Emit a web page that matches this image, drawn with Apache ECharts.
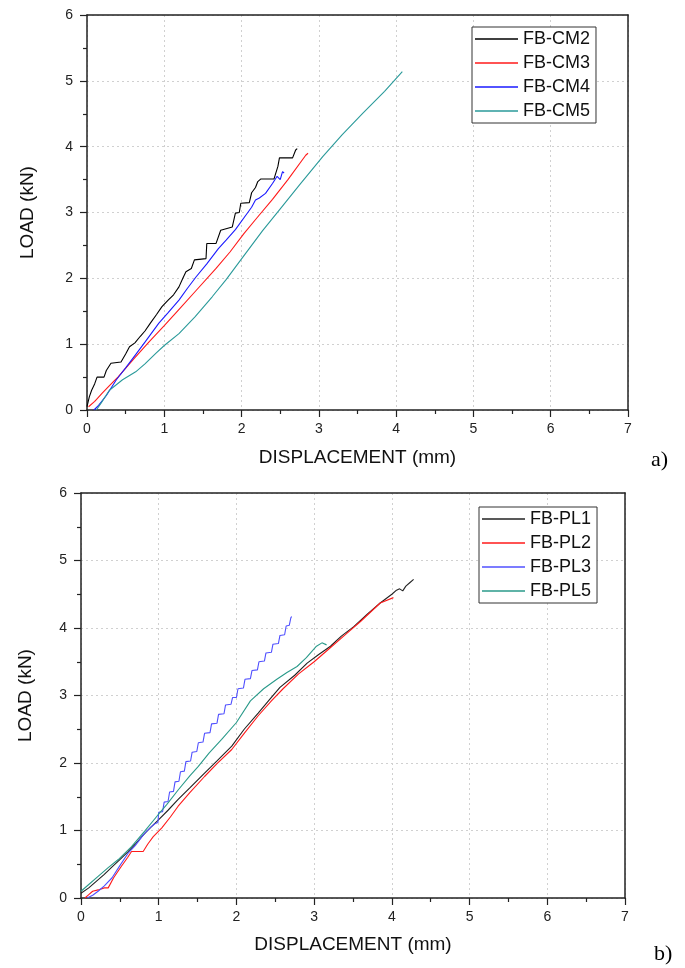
<!DOCTYPE html>
<html>
<head>
<meta charset="utf-8">
<script src="https://cdn.jsdelivr.net/npm/echarts@6/dist/echarts.min.js"></script>
<style>
html,body{margin:0;padding:0;background:#fff;}
#chart{width:685px;height:968px;}
</style>
</head>
<body>
<div id="chart"></div>
<script>
// ---- tick labels ----
var xTicks = [0, 1, 2, 3, 4, 5, 6, 7];
var yTicks = [0, 1, 2, 3, 4, 5, 6];

// ---- panel a) series names ----
var namesA = ['FB-CM2', 'FB-CM3', 'FB-CM4', 'FB-CM5'];
// ---- panel b) series names ----
var namesB = ['FB-PL1', 'FB-PL2', 'FB-PL3', 'FB-PL5'];

// ---- panel a) data: [displacement mm, load kN] ----
var cm2 = [[0,0.05],[0.03,0.2],[0.06,0.3],[0.1,0.4],[0.13,0.5],[0.22,0.5],[0.25,0.6],[0.31,0.71],[0.44,0.73],[0.5,0.85],[0.55,0.96],[0.62,1.02],[0.69,1.12],[0.75,1.2],[0.82,1.32],[0.9,1.45],[0.97,1.57],[1.05,1.67],[1.12,1.75],[1.19,1.87],[1.24,2.0],[1.28,2.1],[1.35,2.15],[1.39,2.28],[1.54,2.3],[1.55,2.53],[1.67,2.53],[1.73,2.73],[1.88,2.78],[1.92,2.99],[1.97,3.0],[1.99,3.14],[2.1,3.15],[2.13,3.3],[2.18,3.38],[2.21,3.47],[2.25,3.51],[2.42,3.51],[2.47,3.7],[2.49,3.83],[2.66,3.83],[2.7,3.95],[2.72,3.97]];
var cm3 = [[0.02,0.05],[0.1,0.13],[0.2,0.26],[0.3,0.38],[0.4,0.5],[0.6,0.77],[0.8,1.03],[1.0,1.28],[1.2,1.54],[1.4,1.8],[1.67,2.15],[1.85,2.4],[2.03,2.68],[2.2,2.92],[2.4,3.2],[2.6,3.5],[2.83,3.87],[2.86,3.9]];
var cm4 = [[0.09,0],[0.15,0.07],[0.25,0.22],[0.38,0.46],[0.5,0.64],[0.61,0.81],[0.75,1.03],[0.93,1.32],[1.05,1.48],[1.19,1.67],[1.3,1.85],[1.41,2.02],[1.55,2.22],[1.7,2.45],[1.8,2.58],[1.92,2.74],[2.05,2.95],[2.13,3.08],[2.18,3.19],[2.23,3.22],[2.31,3.29],[2.4,3.44],[2.46,3.55],[2.5,3.5],[2.53,3.62],[2.55,3.6]];
var cm5 = [[0.12,0],[0.18,0.1],[0.29,0.3],[0.46,0.46],[0.63,0.58],[0.75,0.7],[0.89,0.86],[1.0,0.98],[1.19,1.16],[1.4,1.42],[1.62,1.72],[1.8,1.98],[1.99,2.28],[2.27,2.72],[2.49,3.04],[2.75,3.42],[3.05,3.85],[3.3,4.18],[3.57,4.51],[3.85,4.84],[4.08,5.14]];

// ---- panel b) data ----
var pl1 = [[0,0.07],[0.1,0.15],[0.2,0.25],[0.3,0.35],[0.4,0.46],[0.5,0.57],[0.6,0.68],[0.7,0.8],[0.8,0.93],[0.9,1.05],[1.0,1.16],[1.12,1.3],[1.25,1.46],[1.4,1.63],[1.59,1.85],[1.75,2.03],[1.94,2.25],[2.1,2.5],[2.28,2.74],[2.42,2.93],[2.56,3.12],[2.75,3.3],[2.91,3.48],[3.05,3.6],[3.21,3.73],[3.35,3.88],[3.51,4.02],[3.68,4.2],[3.85,4.37],[4.0,4.5],[4.06,4.56],[4.1,4.58],[4.14,4.55],[4.18,4.62],[4.23,4.67],[4.28,4.72]];
var pl2 = [[0.05,0],[0.1,0.05],[0.15,0.1],[0.22,0.12],[0.3,0.15],[0.35,0.15],[0.42,0.3],[0.52,0.47],[0.6,0.6],[0.65,0.69],[0.8,0.69],[0.86,0.8],[0.93,0.91],[1.04,1.04],[1.15,1.2],[1.25,1.36],[1.4,1.56],[1.59,1.8],[1.75,1.99],[1.94,2.2],[2.1,2.44],[2.28,2.7],[2.45,2.92],[2.6,3.1],[2.8,3.32],[3.0,3.5],[3.2,3.7],[3.42,3.92],[3.6,4.1],[3.85,4.37],[4.02,4.45]];
var pl3 = [[0.08,0],[0.15,0.04],[0.22,0.1],[0.3,0.18],[0.4,0.3],[0.5,0.48],[0.61,0.67],[0.7,0.78],[0.82,0.96],[0.9,1.05],[0.95,1.1],[0.99,1.12],[1.0,1.27],[1.05,1.28],[1.07,1.42],[1.12,1.43],[1.14,1.57],[1.19,1.58],[1.21,1.72],[1.26,1.73],[1.28,1.87],[1.33,1.88],[1.35,2.02],[1.41,2.03],[1.43,2.16],[1.49,2.17],[1.51,2.3],[1.57,2.31],[1.59,2.44],[1.66,2.45],[1.68,2.58],[1.75,2.59],[1.77,2.72],[1.84,2.73],[1.86,2.86],[1.93,2.87],[1.95,2.97],[2.0,2.97],[2.02,3.1],[2.09,3.11],[2.11,3.24],[2.18,3.25],[2.2,3.37],[2.27,3.38],[2.29,3.5],[2.36,3.51],[2.38,3.63],[2.45,3.64],[2.47,3.76],[2.54,3.77],[2.56,3.89],[2.62,3.9],[2.64,4.03],[2.68,4.04],[2.7,4.15],[2.71,4.17]];
var pl5 = [[0,0.1],[0.1,0.2],[0.22,0.32],[0.35,0.45],[0.48,0.57],[0.65,0.76],[0.82,0.99],[0.99,1.23],[1.1,1.38],[1.25,1.6],[1.4,1.81],[1.51,1.95],[1.65,2.15],[1.81,2.35],[2.0,2.6],[2.18,2.92],[2.35,3.1],[2.52,3.24],[2.65,3.34],[2.78,3.43],[2.9,3.56],[3.03,3.73],[3.1,3.78],[3.16,3.75]];

var colorsA = ['#000000', '#ff1a1a', '#1a1aff', '#2a9a9a'];
var colorsB = ['#222222', '#ff1a1a', '#5050ff', '#2a9a8a'];

var FONT = '"Liberation Sans", Arial, sans-serif';

function xAxisFor(gi, gap) {
  return {
    type: 'value', gridIndex: gi, min: 0, max: 7, interval: 1,
    name: 'DISPLACEMENT (mm)', nameLocation: 'middle', nameGap: gap,
    nameTextStyle: {fontFamily: FONT, fontSize: 19, color: '#111'},
    axisLine: {lineStyle: {color: '#222', width: 1.5}},
    axisTick: {show: true, length: 7, lineStyle: {color: '#222', width: 1.2}},
    minorTick: {show: true, splitNumber: 2, length: 4, lineStyle: {color: '#222', width: 1.2}},
    axisLabel: {margin: 12, fontFamily: FONT, fontSize: 14, color: '#222',
      formatter: function (v) { return xTicks.indexOf(v) >= 0 ? String(v) : ''; }},
    splitLine: {show: true, lineStyle: {color: '#d0d0d0', type: [2, 3], width: 1}}
  };
}
function yAxisFor(gi, gap) {
  return {
    type: 'value', gridIndex: gi, min: 0, max: 6, interval: 1,
    name: 'LOAD (kN)', nameLocation: 'middle', nameGap: gap,
    nameTextStyle: {fontFamily: FONT, fontSize: 19, color: '#111'},
    axisLine: {show: true, lineStyle: {color: '#222', width: 1.5}},
    axisTick: {show: true, length: 7, lineStyle: {color: '#222', width: 1.2}},
    minorTick: {show: true, splitNumber: 2, length: 4, lineStyle: {color: '#222', width: 1.2}},
    axisLabel: {margin: 14, fontFamily: FONT, fontSize: 14, color: '#222',
      formatter: function (v) { return yTicks.indexOf(v) >= 0 ? String(v) : ''; }},
    splitLine: {show: true, lineStyle: {color: '#d0d0d0', type: [2, 3], width: 1}}
  };
}
// frame-only axes (top and right edges of the box)
function frameX(gi) {
  return {type: 'value', gridIndex: gi, min: 0, max: 7, interval: 1, position: 'top', z: 5,
    axisLine: {show: true, onZero: false, lineStyle: {color: '#222', width: 1.5}},
    axisTick: {show: false}, axisLabel: {show: false}, splitLine: {show: false}};
}
function frameY(gi) {
  return {type: 'value', gridIndex: gi, min: 0, max: 6, interval: 1, position: 'right', z: 5,
    axisLine: {show: true, onZero: false, lineStyle: {color: '#222', width: 1.5}},
    axisTick: {show: false}, axisLabel: {show: false}, splitLine: {show: false}};
}
function lineSeries(name, data, color, gi) {
  return {
    type: 'line', name: name, data: data, xAxisIndex: gi, yAxisIndex: gi,
    symbol: 'none', smooth: false,
    lineStyle: {color: color, width: 1.1},
    itemStyle: {color: color}
  };
}
function legendFor(names, left, top) {
  return {
    data: names, orient: 'vertical', left: left, top: top,
    icon: 'rect', itemWidth: 43, itemHeight: 1.3, itemGap: 6, itemTextGap: 7,
    padding: [3, 6, 3, 3],
    borderColor: '#333', borderWidth: 1, backgroundColor: '#fff',
    textStyle: {fontFamily: FONT, fontSize: 18, lineHeight: 18, color: '#111'},
    selectedMode: false
  };
}

var chart = echarts.init(document.getElementById('chart'), null, {renderer: 'canvas'});
chart.setOption({
  animation: false,
  backgroundColor: '#ffffff',
  title: [
    {text: 'a)', left: 651, top: 449, padding: 0,
     textStyle: {fontFamily: '"Liberation Serif", "Times New Roman", serif', fontSize: 22, fontWeight: 'normal', color: '#000'}},
    {text: 'b)', left: 654, top: 943, padding: 0,
     textStyle: {fontFamily: '"Liberation Serif", "Times New Roman", serif', fontSize: 22, fontWeight: 'normal', color: '#000'}}
  ],
  grid: [
    {left: 87, top: 15, width: 541, height: 395, containLabel: false},
    {left: 81, top: 493, width: 544, height: 405, containLabel: false}
  ],
  xAxis: [xAxisFor(0, 38), xAxisFor(1, 37), frameX(0), frameX(1)],
  yAxis: [yAxisFor(0, 50), yAxisFor(1, 46), frameY(0), frameY(1)],
  legend: [legendFor(namesA, 472, 27), legendFor(namesB, 479, 507)],
  series: [
    lineSeries(namesA[0], cm2, colorsA[0], 0),
    lineSeries(namesA[1], cm3, colorsA[1], 0),
    lineSeries(namesA[2], cm4, colorsA[2], 0),
    lineSeries(namesA[3], cm5, colorsA[3], 0),
    lineSeries(namesB[0], pl1, colorsB[0], 1),
    lineSeries(namesB[1], pl2, colorsB[1], 1),
    lineSeries(namesB[2], pl3, colorsB[2], 1),
    lineSeries(namesB[3], pl5, colorsB[3], 1)
  ]
});
</script>
</body>
</html>
